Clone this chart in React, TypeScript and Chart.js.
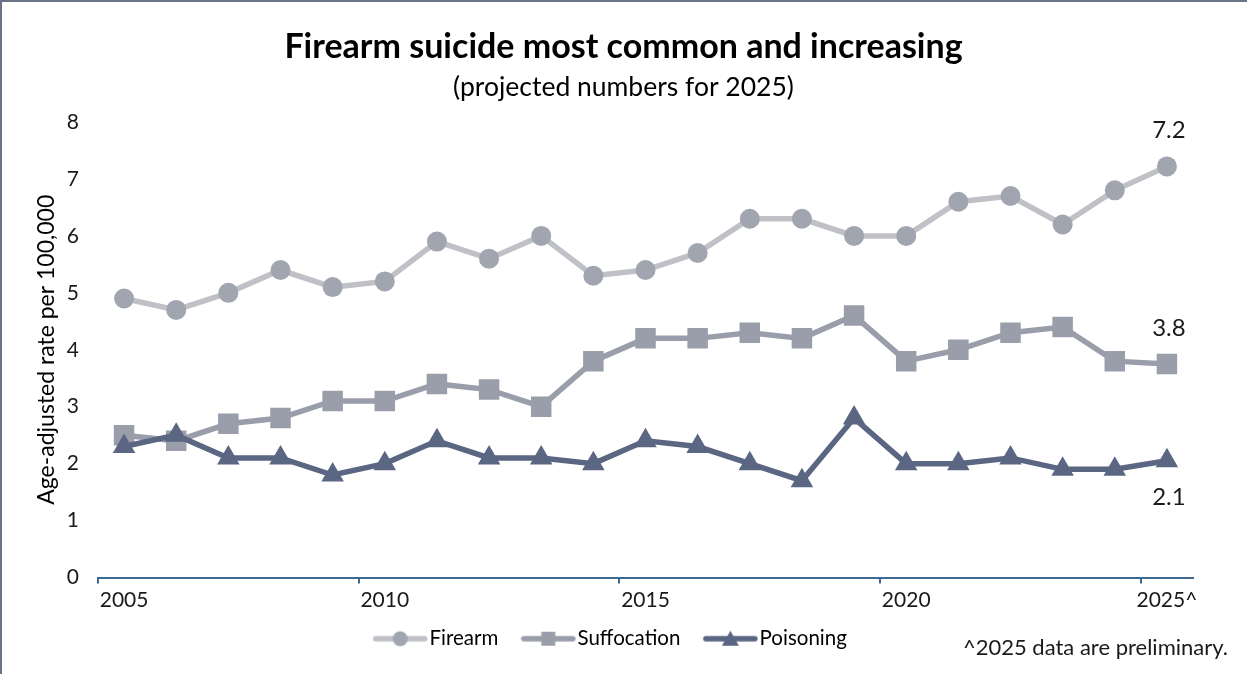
import React, { useEffect, useRef } from "react";
import { Chart, registerables } from "chart.js";

Chart.register(...registerables);

const years = [
  "2005", "2006", "2007", "2008", "2009", "2010", "2011", "2012", "2013", "2014",
  "2015", "2016", "2017", "2018", "2019", "2020", "2021", "2022", "2023", "2024", "2025",
];
const firearm = [4.9, 4.7, 5.0, 5.4, 5.1, 5.2, 5.9, 5.6, 6.0, 5.3, 5.4, 5.7, 6.3, 6.3, 6.0, 6.0, 6.6, 6.7, 6.2, 6.8, 7.22];
const suffocation = [2.5, 2.4, 2.7, 2.8, 3.1, 3.1, 3.4, 3.3, 3.0, 3.8, 4.2, 4.2, 4.3, 4.2, 4.6, 3.8, 4.0, 4.3, 4.4, 3.8, 3.75];
const poisoning = [2.3, 2.5, 2.1, 2.1, 1.8, 2.0, 2.4, 2.1, 2.1, 2.0, 2.4, 2.3, 2.0, 1.7, 2.8, 2.0, 2.0, 2.1, 1.9, 1.9, 2.05];
const seriesNames = ["Firearm", "Suffocation", "Poisoning"];
const endLabels = ["7.2", "3.8", "2.1"];
const tickYears = ["2005", "2010", "2015", "2020", "2025"];
const footnote = "^2025 data are preliminary.";
const titleText = "Firearm suicide most common and increasing";
const subtitleText = "(projected numbers for 2025)";
const yTitle = "Age-adjusted rate per 100,000";

const FONT = "Lato, 'Open Sans', sans-serif";
const lineColors = ["#BFC1C7", "#9A9EAB", "#5A6682"];
const markerColors = ["#A1A5B0", "#9A9EAB", "#5A6682"];
const shapes = ["circle", "rect", "triangle"];

// legend icon: canvas 74 wide, centred on a 53px legend box
function makeIcon(lineColor: string, markerColor: string, shape: string) {
  const c = document.createElement("canvas");
  c.width = 74;
  c.height = 22;
  const g = c.getContext("2d")!;
  const x0 = 20;
  const x1 = 69;
  const mx = (x0 + x1) / 2;
  g.strokeStyle = lineColor;
  g.lineWidth = 5.5;
  g.lineCap = "round";
  g.beginPath();
  g.moveTo(x0, 11);
  g.lineTo(x1, 11);
  g.stroke();
  g.fillStyle = markerColor;
  g.beginPath();
  if (shape === "circle") {
    g.arc(mx, 11, 7.5, 0, Math.PI * 2);
  } else if (shape === "rect") {
    g.rect(mx - 7, 4, 14, 14);
  } else {
    g.moveTo(mx, 3);
    g.lineTo(mx + 8.5, 18);
    g.lineTo(mx - 8.5, 18);
    g.closePath();
  }
  g.fill();
  return c;
}

export default function App() {
  const ref = useRef<HTMLCanvasElement | null>(null);

  useEffect(() => {
    document.body.style.margin = "0";
    const canvas = ref.current;
    if (!canvas) return;

    const icons = [0, 1, 2].map((i) => makeIcon(lineColors[i], markerColors[i], shapes[i]));

    const overlay = {
      id: "overlay",
      afterLayout(chart: any) {
        if (chart.legend) {
          chart.legend.left -= 17;
          chart.legend.right -= 17;
        }
      },
      afterDatasetsDraw(chart: any) {
        const ctx = chart.ctx;
        ctx.save();
        ctx.font = `24px ${FONT}`;
        ctx.fillStyle = "#1a1a1a";
        ctx.textAlign = "center";
        ctx.textBaseline = "middle";
        [0, 1, 2].forEach((i) => {
          const meta = chart.getDatasetMeta(i);
          const pt = meta.data[meta.data.length - 1];
          const dy = i === 2 ? 36 : -36;
          ctx.fillText(endLabels[i], pt.x + 2, pt.y + dy);
        });
        ctx.restore();
      },
      afterDraw(chart: any) {
        const ctx = chart.ctx;
        ctx.save();
        ctx.font = `22px ${FONT}`;
        ctx.fillStyle = "#1a1a1a";
        ctx.textAlign = "right";
        ctx.textBaseline = "middle";
        ctx.fillText(footnote, 1228, 648);
        ctx.strokeStyle = "#6B7486";
        ctx.lineWidth = 2;
        ctx.beginPath();
        ctx.moveTo(1, chart.height);
        ctx.lineTo(1, 1);
        ctx.lineTo(chart.width, 1);
        ctx.stroke();
        ctx.restore();
      },
    };

    const chart = new Chart(canvas, {
      type: "line",
      data: {
        labels: years,
        datasets: [firearm, suffocation, poisoning].map((d, i) => ({
          label: seriesNames[i],
          data: d,
          borderColor: lineColors[i],
          backgroundColor: markerColors[i],
          pointBackgroundColor: markerColors[i],
          pointBorderColor: markerColors[i],
          pointBorderWidth: 0,
          borderWidth: 5.5,
          pointStyle: shapes[i] as any,
          pointRadius: i === 0 ? 10 : i === 1 ? 14.5 : 13,
          tension: 0,
          fill: false,
          order: 3 - i,
        })),
      },
      options: {
        responsive: false,
        animation: false,
        events: [],
        devicePixelRatio: 1,
        layout: { padding: { top: 0, left: 0, right: 0, bottom: 15 } },
        plugins: {
          title: {
            display: true,
            text: titleText,
            color: "#000",
            font: { family: FONT, size: 34, weight: "bold" },
            padding: { top: 26.6, bottom: 1 },
          },
          subtitle: {
            display: true,
            text: subtitleText,
            color: "#000",
            font: { family: FONT, size: 26.5 },
            padding: { top: 2.7, bottom: 19.1 },
          },
          legend: {
            position: "bottom",
            labels: {
              usePointStyle: true,
              pointStyleWidth: 53,
              padding: 16,
              color: "#1a1a1a",
              font: { family: FONT, size: 20.5 },
              generateLabels: (ch: any) =>
                ch.data.datasets.map((ds: any, i: number) => ({
                  text: ds.label,
                  pointStyle: icons[i],
                  fillStyle: markerColors[i],
                  strokeStyle: lineColors[i],
                  lineWidth: 0,
                  hidden: false,
                  datasetIndex: i,
                })),
            },
          },
          tooltip: { enabled: false },
        },
        scales: {
          x: {
            type: "category",
            offset: true,
            border: { display: true, color: "#3D6A94", width: 2 },
            grid: {
              display: true,
              offset: true,
              drawOnChartArea: false,
              drawTicks: true,
              tickLength: 6,
              lineWidth: 2,
              color: (c: any) => (typeof c.index === "number" && c.index % 5 === 0 ? "#3D6A94" : "rgba(0,0,0,0)"),
            },
            ticks: {
              autoSkip: false,
              maxRotation: 0,
              padding: 4,
              color: "#1a1a1a",
              font: { family: FONT, size: 21 },
              callback: (_v: any, idx: number) => {
                const y = years[idx];
                if (!tickYears.includes(y)) return "";
                return idx === years.length - 1 ? y + "^" : y;
              },
            },
            afterFit: (s: any) => {
              s.height = 35;
            },
          },
          y: {
            min: 0,
            max: 8,
            border: { display: false },
            grid: { display: false, drawTicks: false },
            ticks: {
              stepSize: 1,
              padding: 19,
              color: "#1a1a1a",
              font: { family: FONT, size: 21 },
            },
            title: {
              display: true,
              text: yTitle,
              color: "#000",
              font: { family: FONT, size: 23 },
              padding: { top: 33, bottom: 0 },
            },
            afterFit: (s: any) => {
              s.width = 98;
            },
          },
          yRight: {
            type: "linear",
            position: "right",
            display: true,
            border: { display: false },
            grid: { display: false, drawTicks: false },
            ticks: { display: false },
            afterFit: (s: any) => {
              s.width = 54;
            },
          },
        },
      } as any,
      plugins: [overlay],
    });

    return () => chart.destroy();
  }, []);

  return (
    <div style={{ width: 1247, height: 674, background: "#fff" }}>
      <canvas ref={ref} width={1247} height={674} style={{ display: "block" }} />
    </div>
  );
}
